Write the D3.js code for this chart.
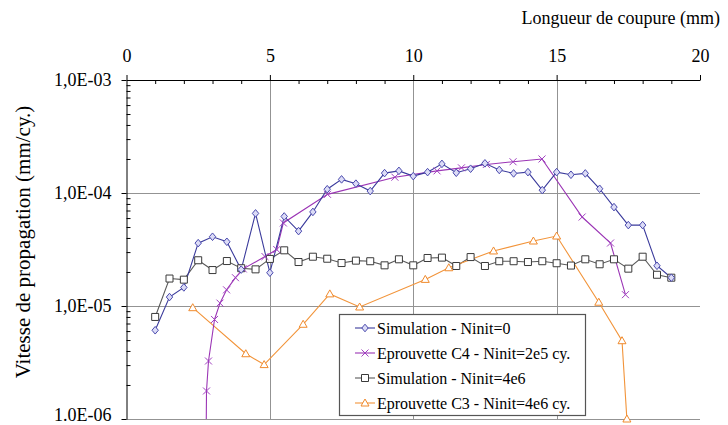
<!DOCTYPE html>
<html><head><meta charset="utf-8">
<script src="https://cdn.jsdelivr.net/npm/d3@7"></script>
<style>
body{margin:0;background:#fff}
svg{display:block}
text{font-family:"Liberation Serif","Times New Roman",Times,serif;fill:#000}
</style>
</head><body>
<svg id="c" width="728" height="425"></svg>
<script>
// ---- data ----
const simX = [1,1.5,2,2.5,3,3.5,4,4.5,5,5.5,6,6.5,7,7.5,8,8.5,9,9.5,10,10.5,11,11.5,12,12.5,13,13.5,14,14.5,15,15.5,16,16.5,17,17.5,18,18.5,19];
const simNinit0 = [6.1e-6,1.2e-5,1.46e-5,3.6e-5,4.1e-5,3.7e-5,2.1e-5,6.6e-5,1.97e-5,6.2e-5,4.6e-5,6.8e-5,1.08e-4,1.32e-4,1.21e-4,1.04e-4,1.50e-4,1.57e-4,1.41e-4,1.53e-4,1.81e-4,1.51e-4,1.64e-4,1.83e-4,1.60e-4,1.49e-4,1.53e-4,1.06e-4,1.53e-4,1.45e-4,1.49e-4,1.09e-4,7.5e-5,5.2e-5,5.2e-5,2.27e-5,1.78e-5];
const simNinit4e6 = [8.0e-6,1.75e-5,1.71e-5,2.54e-5,2.08e-5,2.50e-5,2.16e-5,2.11e-5,2.61e-5,3.11e-5,2.45e-5,2.73e-5,2.62e-5,2.40e-5,2.52e-5,2.49e-5,2.29e-5,2.59e-5,2.29e-5,2.66e-5,2.68e-5,2.26e-5,2.71e-5,2.26e-5,2.49e-5,2.49e-5,2.45e-5,2.49e-5,2.39e-5,2.28e-5,2.59e-5,2.34e-5,2.59e-5,2.14e-5,2.73e-5,1.89e-5,1.78e-5];
const c4X = [2.77,2.79,2.86,3.07,3.26,3.49,3.80,4.07,4.83,5.24,5.47,7.01,9.36,10.83,11.68,12.55,13.48,14.49,15.89,16.88,17.40];
const c4Y = [4e-7,1.77e-6,3.26e-6,7.6e-6,1.06e-5,1.39e-5,1.78e-5,2.13e-5,2.74e-5,3.16e-5,5.43e-5,9.73e-5,1.38e-4,1.57e-4,1.67e-4,1.79e-4,1.89e-4,2.0e-4,6.13e-5,3.61e-5,1.26e-5];
const c3X = [2.31,4.16,4.80,6.16,7.09,8.13,10.42,11.24,12.8,14.19,15.0,16.47,17.28,17.45];
const c3Y = [9.66e-6,3.78e-6,3.03e-6,6.89e-6,1.28e-5,9.8e-6,1.72e-5,2.18e-5,3.07e-5,3.76e-5,4.16e-5,1.08e-5,4.93e-6,1.0e-6];
const xTicks = [0,5,10,15,20];
const yTicks = [1e-3,1e-4,1e-5,1e-6];
const yTickLabels = ["1,0E-03","1,0E-04","1,0E-05","1.0E-06"];
const seriesNames = ["Simulation - Ninit=0","Eprouvette C4 - Ninit=2e5 cy.","Simulation - Ninit=4e6","Eprouvette C3 - Ninit=4e6 cy."];
const xTitle = "Longueur de coupure (mm)";
const yTitle = "Vitesse de propagation (mm/cy.)";

// ---- chart ----
const FONT = '"Liberation Serif","Times New Roman",Times,serif';
const svg = d3.select('#c');
const L=126.5, R=700, T=80, B=419;
const x = d3.scaleLinear().domain([0,20]).range([L,R]);
const y = d3.scaleLog().domain([1e-6,1e-3]).range([B,T]);

svg.append('defs').append('clipPath').attr('id','clip')
  .append('rect').attr('x',L).attr('y',T).attr('width',R-L).attr('height',B-T);

// grid
const grid = svg.append('g').attr('stroke','#939393').attr('stroke-width',1);
grid.selectAll('line.h').data([1e-4,1e-5,1e-6]).join('line').attr('class','h')
  .attr('x1',L).attr('x2',R).attr('y1',d=>Math.round(y(d))+0.5).attr('y2',d=>Math.round(y(d))+0.5);
grid.selectAll('line.v').data([5,10,15]).join('line').attr('class','v')
  .attr('y1',T).attr('y2',B).attr('x1',d=>Math.round(x(d))+0.5).attr('x2',d=>Math.round(x(d))+0.5);

// axes
const minorX = d3.range(0,21).filter(v=>v%5!==0);
const gxMinor = svg.append('g').attr('transform',`translate(0,${T})`)
  .call(d3.axisTop(x).tickValues(minorX).tickSize(-4).tickSizeOuter(0).tickFormat(''));
gxMinor.select('.domain').remove();
const gx = svg.append('g').attr('transform',`translate(0,${T})`)
  .call(d3.axisTop(x).tickValues(xTicks).tickSize(5).tickSizeOuter(0).tickPadding(13));
gx.attr('font-family',FONT);
gx.selectAll('text').attr('font-size',18);

const minorY = [];
[1e-6,1e-5,1e-4].forEach(d=>{for(let k=2;k<=9;k++) minorY.push(d*k);});
const gyMinor = svg.append('g').attr('transform',`translate(${L},0)`)
  .call(d3.axisLeft(y).tickValues(minorY).tickSize(-4).tickSizeOuter(0).tickFormat(''));
gyMinor.select('.domain').remove();
const gy = svg.append('g').attr('transform',`translate(${L},0)`)
  .call(d3.axisLeft(y).tickValues(yTicks).tickSize(5).tickSizeOuter(0).tickPadding(10)
    .tickFormat((d,i)=>yTickLabels[i]));
gy.attr('font-family',FONT);
gy.selectAll('text').attr('font-size',18).attr('dy',(d,i)=> i===3 ? '0.1em' : '0.32em');
svg.selectAll('.domain').attr('stroke','#000');
svg.selectAll('.tick line').attr('stroke','#000');

// titles
svg.append('text').attr('x',720).attr('y',24).attr('text-anchor','end').attr('font-size',18).text(xTitle);
svg.append('text').attr('transform','translate(30,242) rotate(-90)').attr('text-anchor','middle').attr('font-size',21).text(yTitle);

// markers
const mk = {
  diamond: 'M0,-3.8L3.2,0L0,3.8L-3.2,0Z',
  x: 'M-3.5,-3.5L3.5,3.5M-3.5,3.5L3.5,-3.5',
  square: 'M-3.5,-3.5H3.5V3.5H-3.5Z',
  triangle: 'M0,-4L4,3L-4,3Z'
};
const series = [
  {name:seriesNames[0], xs:simX, ys:simNinit0, color:'#3b3b9c', mcolor:'#4a4aae', mfill:'#dcdcf6', marker:'diamond'},
  {name:seriesNames[1], xs:c4X, ys:c4Y, color:'#9b35b5', mcolor:'#a040c0', mfill:'none', marker:'x'},
  {name:seriesNames[2], xs:simX, ys:simNinit4e6, color:'#5a5a5a', mcolor:'#3a3a3a', mfill:'#fff', marker:'square'},
  {name:seriesNames[3], xs:c3X, ys:c3Y, color:'#f2943a', mcolor:'#f08a2c', mfill:'#fff', marker:'triangle'}
];
const plot = svg.append('g').attr('clip-path','url(#clip)');
const line = d3.line().x(d=>x(d[0])).y(d=>y(d[1]));
const draw = [2,3,1,0];
draw.forEach(i=>{
  const s=series[i];
  const pts = s.xs.map((v,j)=>[v,s.ys[j]]);
  plot.append('path').attr('d',line(pts)).attr('fill','none').attr('stroke',s.color).attr('stroke-width',1.1);
});
const svgm = svg.append('g');
draw.forEach(i=>{
  const s=series[i];
  const pts = s.xs.map((v,j)=>[v,s.ys[j]]).filter(p=>p[1]>=1e-6);
  svgm.selectAll(null).data(pts).join('path')
    .attr('transform',d=>`translate(${x(d[0])},${y(d[1])})`)
    .attr('d',mk[s.marker]).attr('fill',s.mfill).attr('stroke',s.mcolor).attr('stroke-width',1);
});

// top axis line
svg.append('line').attr('x1',L).attr('x2',R).attr('y1',T+0.5).attr('y2',T+0.5).attr('stroke','#000');

// legend
const lg = svg.append('g');
lg.append('rect').attr('x',339.5).attr('y',314.5).attr('width',246).attr('height',101)
  .attr('fill','#fff').attr('stroke','#555').attr('stroke-width',1.2);
const rowsY = [328,353,378,403];
series.forEach((s,i)=>{
  const yy = rowsY[i];
  lg.append('line').attr('x1',355).attr('x2',375).attr('y1',yy).attr('y2',yy).attr('stroke',s.color).attr('stroke-width',1.1);
  lg.append('path').attr('transform',`translate(365,${yy})`).attr('d',mk[s.marker]).attr('fill',s.mfill).attr('stroke',s.mcolor);
  lg.append('text').attr('x',377).attr('y',yy+5.5).attr('font-size',16).text(s.name);
});
</script>
</body></html>
